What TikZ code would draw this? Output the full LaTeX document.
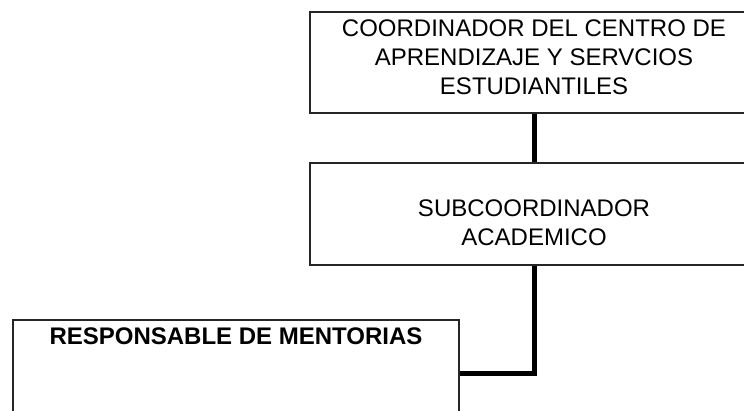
\documentclass[tikz,border=0pt]{standalone}
\usepackage{fontspec}
\setmainfont{Liberation Sans}
\begin{document}
\begin{tikzpicture}[x=1pt,y=-1pt,
  box/.style={draw=black!85, line width=1.5pt, rectangle, inner sep=0pt},
  lbl/.style={font=\fontsize{24}{29}\selectfont, align=center, inner sep=0pt, anchor=north},
  conn/.style={line width=5pt}]
\useasboundingbox (0,0) rectangle (744,410);
\clip (0,0) rectangle (744,410);
\fill[white] (0,0) rectangle (744,410);
\node[box, minimum width=448pt, minimum height=101pt] (top) at (534,62.5) {};
\node[box, minimum width=448pt, minimum height=102pt] (mid) at (534,214) {};
\node[box, minimum width=446pt, minimum height=130pt] (bot) at (236,385) {};
\node[lbl] (ttop) at (534,20) {COORDINADOR DEL CENTRO DE\\APRENDIZAJE Y SERVCIOS\\ESTUDIANTILES};
\node[lbl] (tmid) at (534,200) {SUBCOORDINADOR\\ACADEMICO};
\node[lbl, font=\fontsize{24}{29}\selectfont\bfseries] (tbot) at (236,328) {RESPONSABLE DE MENTORIAS};
\coordinate (elbow) at (534,373);
\draw[conn] (top.south) -- (mid.north);
\draw[conn] (mid.south) -- (elbow) -- (bot.east |- elbow);
\end{tikzpicture}
\end{document}
